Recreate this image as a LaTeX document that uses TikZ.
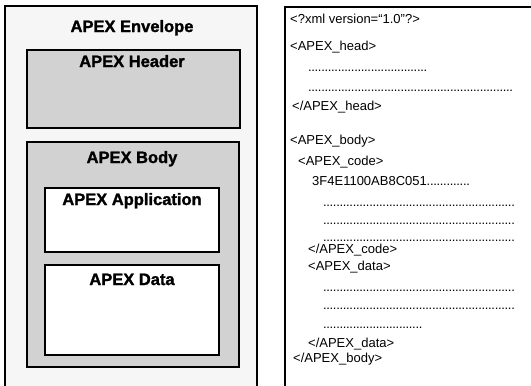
\documentclass[tikz,border=0pt]{standalone}
\usepackage{fontspec}
\setmainfont{Liberation Sans}[BoldFeatures={FakeBold=1.5}]
\newcommand{\dotrow}[1]{\hbox to #1{\leaders\hbox to 3.3pt{\hss.\hss}\hfill}}

\begin{document}
\begin{tikzpicture}[x=1pt,y=-1pt,
  title/.style={anchor=base,font=\fontsize{16.5}{18}\selectfont\bfseries},
  code/.style={anchor=base west,inner sep=0pt,font=\fontsize{13}{15}\selectfont}]
  \useasboundingbox (0,0) rectangle (531,386);
  \clip (0,0) rectangle (531,386);
  % left side: envelope with header and body
  \draw[line width=1.6pt,fill=gray!7] (5,6) rectangle (257,400);
  \draw[line width=2.4pt,fill=gray!35] (27,50) rectangle (240,128);
  \draw[line width=2.4pt,fill=gray!35] (27,142) rectangle (239,367);
  \draw[line width=2pt,fill=white] (45,188) rectangle (219,252);
  \draw[line width=2pt,fill=white] (45,265) rectangle (219,355);
  \node[title] (env)  at (132,32)  {APEX Envelope};
  \node[title] (head) at (132,67)  {APEX Header};
  \node[title] (body) at (132,163) {APEX Body};
  \node[title] (app)  at (132,205) {APEX Application};
  \node[title] (data) at (132,285) {APEX Data};
  % right side: xml listing
  \draw[line width=1.8pt] (285,400) -- (285,7) -- (540,7);
  \node[code] (decl)     at (290,23)  {<?xml version=“1.0”?>};
  \node[code] (headin)   at (290,50)  {<APEX\_head>};
  \node[code] (hdots1)   at (308,71)  {\dotrow{119pt}};
  \node[code] (hdots2)   at (308,91)  {\dotrow{205pt}};
  \node[code] (headout)  at (292,110) {</APEX\_head>};
  \node[code] (bodyin)   at (290,144) {<APEX\_body>};
  \node[code] (codein)   at (298,165) {<APEX\_code>};
  \node[code] (hex)      at (312,185) {3F4E1100AB8C051\dotrow{43pt}};
  \node[code] (cdots1)   at (323,206) {\dotrow{192pt}};
  \node[code] (cdots2)   at (323,224) {\dotrow{192pt}};
  \node[code] (cdots3)   at (323,241) {\dotrow{192pt}};
  \node[code] (codeout)  at (308,253) {</APEX\_code>};
  \node[code] (datain)   at (308,270) {<APEX\_data>};
  \node[code] (ddots1)   at (323,291) {\dotrow{192pt}};
  \node[code] (ddots2)   at (323,309) {\dotrow{192pt}};
  \node[code] (ddots3)   at (323,328) {\dotrow{102pt}};
  \node[code] (dataout)  at (308,347) {</APEX\_data>};
  \node[code] (bodyout)  at (293,362) {</APEX\_body>};
\end{tikzpicture}
\end{document}
